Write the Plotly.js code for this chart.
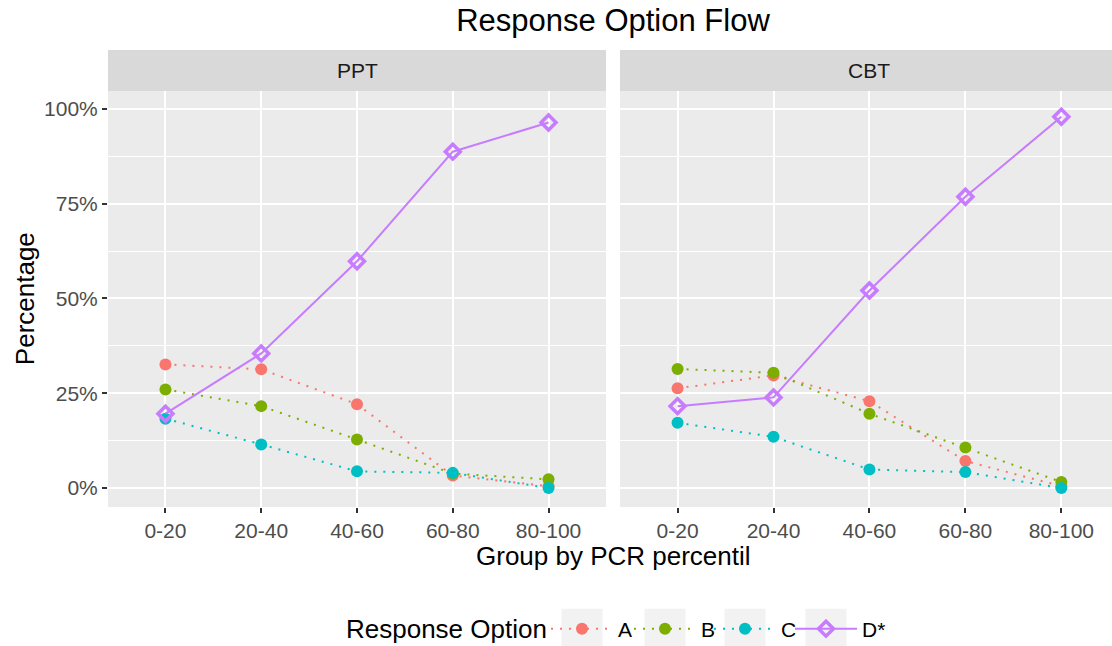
<!DOCTYPE html>
<html>
<head>
<meta charset="utf-8">
<script src="https://cdn.plot.ly/plotly-3.0.1.min.js"></script>
<style>
html,body{margin:0;padding:0;overflow:hidden;background:#fff;}
#chart{width:1112px;height:646px;}
</style>
</head>
<body>
<div id="chart"></div>
<script>
// ---- data ----
const groups = ["0-20", "20-40", "40-60", "60-80", "80-100"];
const facets = ["PPT", "CBT"];
const options = ["A", "B", "C", "D*"];
const colors = ["#F8766D", "#7CAE00", "#00BFC4", "#C77CFF"];

const pptA = [32.6, 31.3, 22.1, 3.3, 0.5];
const pptB = [26.0, 21.6, 12.8, 3.8, 2.3];
const pptC = [18.3, 11.5, 4.4, 4.0, 0.0];
const pptD = [19.6, 35.5, 59.8, 88.7, 96.4];

const cbtA = [26.3, 29.7, 22.9, 7.1, 0.5];
const cbtB = [31.4, 30.4, 19.6, 10.7, 1.6];
const cbtC = [17.2, 13.5, 4.9, 4.2, 0.0];
const cbtD = [21.6, 23.9, 52.1, 76.8, 97.9];

const values = {PPT: [pptA, pptB, pptC, pptD], CBT: [cbtA, cbtB, cbtC, cbtD]};

// ---- layout helpers (pixel -> paper) ----
const W = 1112, H = 646;
const L = 108, R = 0, T = 91, B = 646 - 506.7;
const PW = W - L - R, PH = H - T - B;
const px = x => (x - L) / PW;
const py = y => (H - B - y) / PH;

const FONT = "Liberation Sans, Arial, sans-serif";
const legendIds = ["legend", "legend2", "legend3", "legend4"];
const keyCenters = [580, 663, 743, 824];   // legend key box centres (px)
const keyY = 629;

const traces = [];
facets.forEach((f, fi) => {
  options.forEach((o, oi) => {
    const isD = oi === 3;
    traces.push({
      type: "scatter",
      mode: "lines+markers",
      name: o,
      legend: legendIds[oi],
      legendgroup: o,
      showlegend: fi === 0,
      x: groups,
      y: values[f][oi],
      xaxis: fi === 0 ? "x" : "x2",
      yaxis: "y",
      line: {color: colors[oi], width: 2, dash: isD ? "solid" : "2px,7px"},
      marker: isD
        ? {symbol: "diamond-open", size: 11.5, color: colors[oi], line: {color: colors[oi], width: 3.5}}
        : {symbol: "circle", size: 12, color: colors[oi], line: {width: 0}},
      hoverinfo: "skip"
    });
  });
});

const xCommon = {
  type: "category",
  categoryorder: "array",
  categoryarray: groups,
  showgrid: true,
  gridcolor: "#ffffff",
  gridwidth: 2,
  zeroline: false,
  showline: false,
  ticks: "outside",
  ticklen: 5,
  tickwidth: 2,
  tickcolor: "#333333",
  tickfont: {family: FONT, size: 21, color: "#4d4d4d"},
  anchor: "y",
  fixedrange: true
};

const d1 = [0, px(606)];
const d2 = [px(620), 1];

const keyShape = c => ({type: "rect", xref: "paper", yref: "paper", x0: px(c - 20.5), x1: px(c + 20.5), y0: py(keyY - 20.5), y1: py(keyY + 20.5), fillcolor: "#f2f2f2", line: {width: 0}, layer: "below"});
const stripShapes = [
  {type: "rect", xref: "paper", yref: "paper", x0: d1[0], x1: d1[1], y0: 1, y1: py(50), fillcolor: "#d9d9d9", line: {width: 0}, layer: "below"},
  {type: "rect", xref: "paper", yref: "paper", x0: d2[0], x1: d2[1], y0: 1, y1: py(50), fillcolor: "#d9d9d9", line: {width: 0}, layer: "below"}
];

const layout = {
  width: W,
  height: H,
  margin: {l: L, r: R, t: T, b: B, pad: 0},
  paper_bgcolor: "#ffffff",
  plot_bgcolor: "#ebebeb",
  font: {family: FONT, color: "#000000"},
  title: {
    text: "Response Option Flow",
    font: {family: FONT, size: 31, color: "#000000"},
    x: px(613), xref: "paper", xanchor: "center",
    y: 1 - 20 / H, yref: "container", yanchor: "middle"
  },
  xaxis: Object.assign({}, xCommon, {domain: d1, range: [-0.6, 4.6]}),
  xaxis2: Object.assign({}, xCommon, {domain: d2, range: [-0.6, 4.528]}),
  yaxis: {
    range: [-5.0, 104.7],
    tickvals: [0, 25, 50, 75, 100],
    ticktext: ["0%", "25%", "50%", "75%", "100%"],
    showgrid: true,
    gridcolor: "#ffffff",
    gridwidth: 2,
    minor: {tickvals: [12.5, 37.5, 62.5, 87.5], showgrid: true, gridcolor: "#ffffff", gridwidth: 1, ticks: ""},
    zeroline: false,
    showline: false,
    ticks: "outside",
    ticklen: 5,
    tickwidth: 2,
    tickcolor: "#333333",
    tickfont: {family: FONT, size: 21, color: "#4d4d4d"},
    fixedrange: true
  },
  showlegend: true,
  shapes: stripShapes.concat(keyCenters.map(keyShape)),
  annotations: [
    {text: "PPT", xref: "paper", yref: "paper", x: (d1[0] + d1[1]) / 2, y: py(70.5), xanchor: "center", yanchor: "middle", showarrow: false, font: {family: FONT, size: 21, color: "#1a1a1a"}},
    {text: "CBT", xref: "paper", yref: "paper", x: (px(620) + px(1118)) / 2, y: py(70.5), xanchor: "center", yanchor: "middle", showarrow: false, font: {family: FONT, size: 21, color: "#1a1a1a"}},
    {text: "Group by PCR percentil", xref: "paper", yref: "paper", x: px(613), y: py(556), xanchor: "center", yanchor: "middle", showarrow: false, font: {family: FONT, size: 26, color: "#000000"}},
    {text: "Percentage", xref: "paper", yref: "paper", x: px(25), y: py(299), xanchor: "center", yanchor: "middle", textangle: -90, showarrow: false, font: {family: FONT, size: 26, color: "#000000"}},
    {text: "Response Option", xref: "paper", yref: "paper", x: px(344), y: py(keyY), xanchor: "left", yanchor: "middle", showarrow: false, font: {family: FONT, size: 26, color: "#000000"}}
  ]
};

legendIds.forEach((id, i) => {
  layout[id] = {
    orientation: "h",
    x: px(keyCenters[i] - 34), xanchor: "left", xref: "paper",
    y: 1 - keyY / H, yanchor: "middle", yref: "container",
    bgcolor: "rgba(0,0,0,0)",
    font: {family: FONT, size: 21, color: "#000000"},
    itemwidth: 62,
    valign: "middle"
  };
});

const gd = document.getElementById("chart");
Plotly.newPlot(gd, traces, layout, {displayModeBar: false, staticPlot: true}).then(() => {
  // centre each grey key box on the legend symbol Plotly actually drew
  const host = gd.getBoundingClientRect();
  const centres = keyCenters.slice();
  let found = false;
  legendIds.forEach((id, i) => {
    const g = gd.querySelector("g." + id);
    if (!g) return;
    const pt = g.querySelector(".legendpoints .scatterpts") || g.querySelector(".legendpoints");
    if (!pt) return;
    const r = pt.getBoundingClientRect();
    if (r.width > 0) { centres[i] = r.left - host.left + r.width / 2; found = true; }
  });
  if (found) return Plotly.relayout(gd, {shapes: stripShapes.concat(centres.map(keyShape))});
});
</script>
</body>
</html>
